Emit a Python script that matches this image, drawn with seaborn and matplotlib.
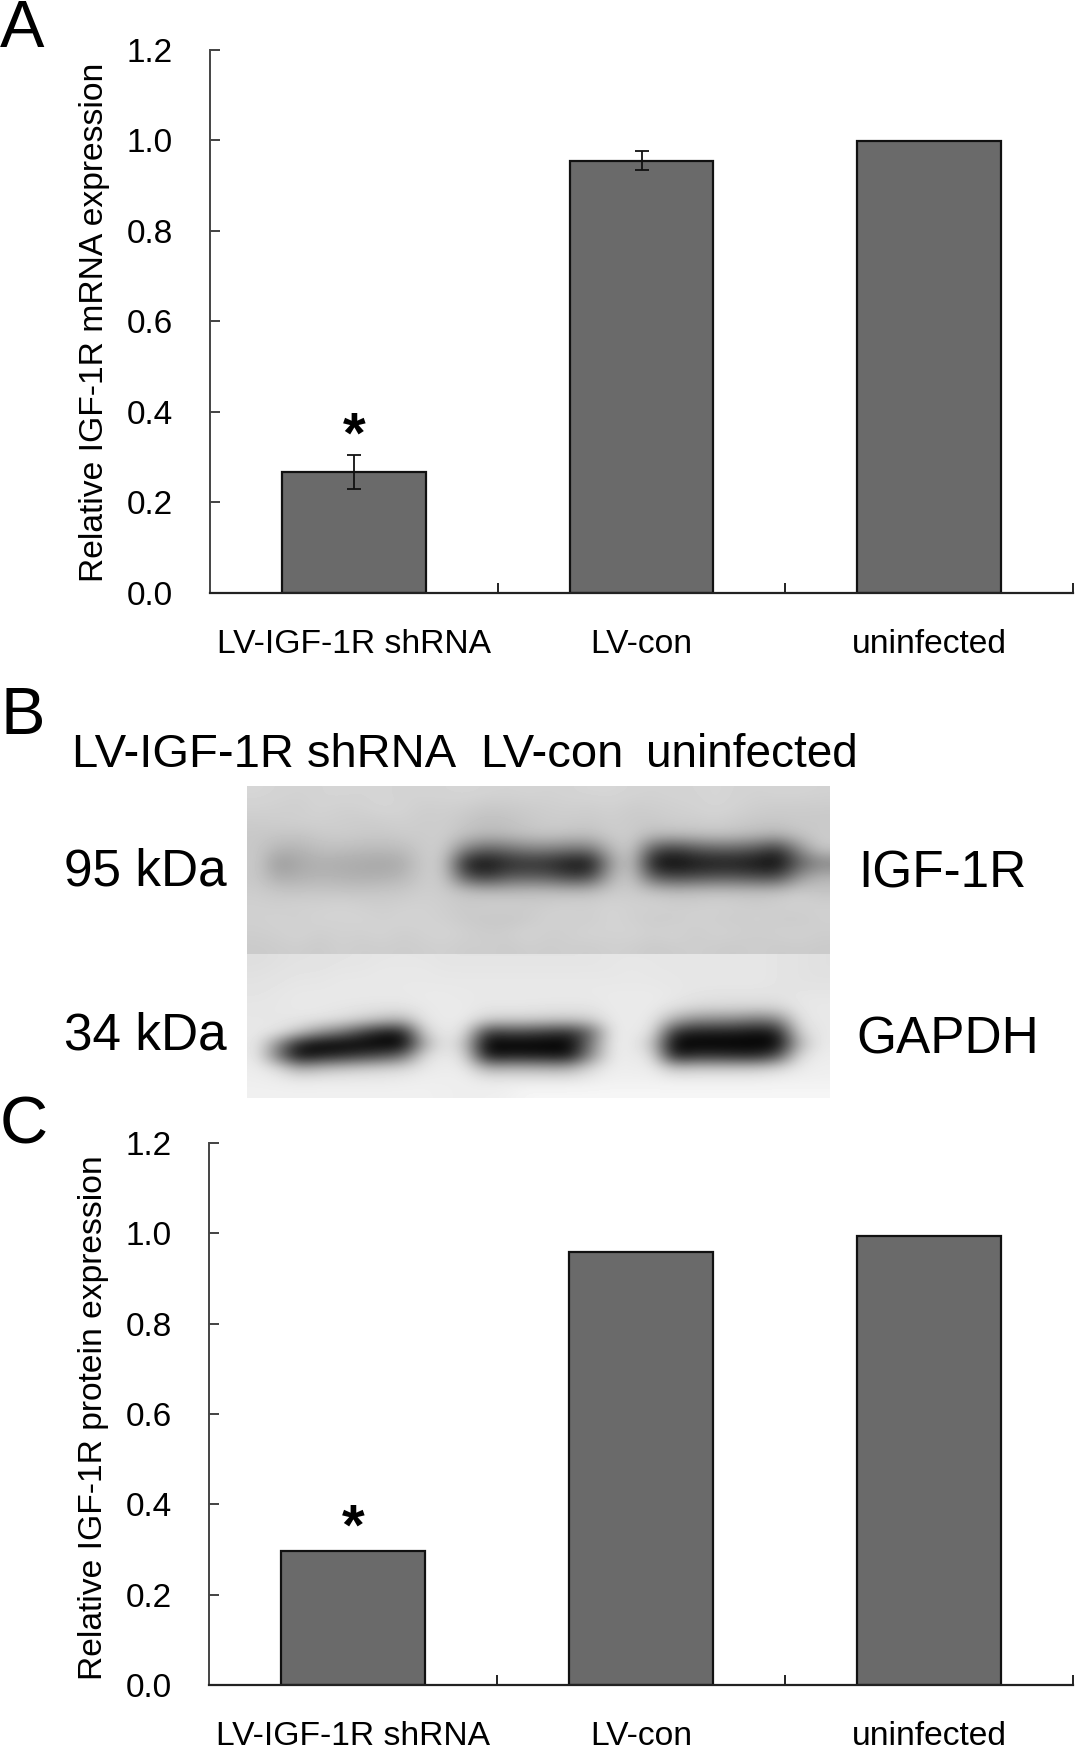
"""Fig: IGF-1R knockdown, qPCR bars (A), western blot (B), densitometry bars (C)."""
import matplotlib
matplotlib.use("Agg")
import matplotlib.pyplot as plt
import numpy as np
import pandas as pd
import seaborn as sns

W, H = 1087, 1759

groups = ["LV-IGF-1R shRNA", "LV-con", "uninfected"]
mrna_values = [0.267, 0.955, 0.998]
mrna_err_low = [0.038, 0.021, 0.0]
mrna_err_high = [0.037, 0.021, 0.0]
protein_values = [0.297, 0.958, 0.995]
star_levels = [0.356, 0.358]
y_ticks = [0.0, 0.2, 0.4, 0.6, 0.8, 1.0, 1.2]

# blot grey levels, 28 columns
blot_igf = [
    [214, 212, 210, 212, 214, 212, 214, 210, 212, 212, 214, 212, 210, 212, 210, 212, 214, 214, 212, 210, 212, 212, 214, 212, 210, 212, 212, 210],
    [210, 208, 206, 212, 208, 210, 214, 212, 206, 208, 206, 200, 202, 204, 206, 208, 206, 210, 204, 206, 208, 210, 214, 210, 206, 204, 204, 204],
    [204, 206, 208, 208, 206, 204, 206, 208, 204, 206, 198, 192, 194, 200, 204, 204, 202, 206, 202, 202, 206, 206, 208, 204, 200, 200, 202, 200],
    [200, 198, 196, 202, 204, 202, 200, 204, 204, 206, 192, 184, 188, 194, 198, 194, 192, 204, 204, 188, 190, 192, 196, 192, 186, 180, 196, 204],
    [200, 180, 180, 190, 190, 186, 186, 188, 204, 204, 130, 100, 112, 130, 130, 120, 120, 186, 204, 84, 60, 84, 96, 96, 82, 50, 140, 200],
    [202, 152, 168, 176, 172, 170, 166, 172, 204, 200, 30, 12, 40, 48, 42, 20, 16, 160, 200, 20, 5, 20, 26, 26, 16, 5, 90, 130],
    [200, 170, 176, 180, 178, 174, 176, 182, 204, 202, 84, 56, 88, 92, 88, 64, 70, 180, 202, 90, 70, 76, 84, 84, 74, 72, 150, 180],
    [204, 198, 196, 198, 196, 196, 198, 200, 206, 204, 194, 188, 186, 190, 190, 188, 190, 202, 204, 196, 188, 192, 194, 192, 192, 194, 204, 196],
    [208, 206, 210, 208, 212, 208, 206, 208, 210, 206, 202, 206, 208, 204, 206, 210, 208, 212, 208, 210, 208, 206, 210, 208, 204, 208, 210, 208],
    [208, 210, 206, 212, 210, 212, 208, 212, 210, 208, 202, 200, 198, 202, 210, 206, 206, 212, 208, 204, 204, 210, 206, 204, 208, 204, 202, 208],
    [206, 208, 212, 206, 210, 208, 212, 206, 210, 212, 208, 204, 206, 212, 206, 208, 212, 210, 212, 208, 212, 204, 210, 208, 204, 208, 210, 206],
    [202, 204, 206, 202, 208, 204, 206, 204, 206, 208, 204, 206, 202, 206, 204, 206, 204, 208, 206, 202, 204, 206, 204, 202, 206, 202, 204, 202],
]
blot_gapdh = [
    [222, 224, 226, 226, 228, 228, 230, 230, 230, 228, 228, 228, 228, 228, 228, 228, 228, 230, 230, 230, 230, 230, 230, 230, 230, 228, 226, 224],
    [224, 226, 228, 228, 230, 230, 232, 232, 232, 230, 230, 230, 230, 230, 230, 230, 230, 230, 232, 230, 230, 230, 230, 230, 230, 228, 226, 224],
    [226, 228, 230, 230, 232, 232, 232, 232, 232, 232, 232, 232, 232, 232, 232, 232, 232, 232, 232, 232, 230, 230, 230, 230, 230, 228, 226, 226],
    [228, 230, 232, 232, 232, 232, 232, 232, 234, 234, 232, 232, 232, 232, 232, 232, 232, 234, 234, 234, 232, 228, 226, 226, 226, 226, 230, 230],
    [230, 230, 232, 232, 230, 228, 226, 226, 232, 234, 234, 230, 230, 230, 228, 228, 228, 234, 234, 234, 224, 214, 212, 212, 210, 212, 230, 232],
    [230, 230, 230, 226, 220, 206, 190, 180, 230, 234, 234, 206, 204, 204, 200, 198, 204, 234, 234, 232, 170, 140, 136, 132, 118, 130, 226, 232],
    [232, 228, 196, 150, 120, 70, 28, 30, 210, 234, 222, 60, 70, 70, 56, 48, 100, 234, 234, 226, 50, 30, 30, 28, 18, 30, 210, 232],
    [232, 140, 30, 4, 2, 2, 0, 0, 170, 234, 196, 0, 0, 0, 0, 0, 120, 236, 234, 200, 0, 0, 0, 0, 0, 2, 180, 234],
    [234, 120, 10, 30, 46, 64, 80, 110, 220, 234, 220, 24, 30, 30, 24, 20, 140, 236, 234, 226, 30, 50, 50, 44, 40, 80, 220, 236],
    [236, 220, 170, 186, 196, 204, 210, 216, 232, 236, 234, 176, 180, 180, 176, 176, 216, 238, 236, 236, 196, 202, 202, 202, 204, 216, 234, 238],
    [238, 236, 232, 234, 234, 234, 234, 236, 238, 238, 238, 232, 232, 232, 232, 232, 236, 240, 240, 240, 238, 238, 238, 238, 238, 240, 240, 240],
    [240, 240, 240, 240, 240, 240, 240, 240, 240, 238, 238, 238, 240, 246, 246, 246, 246, 246, 246, 246, 246, 246, 246, 246, 246, 246, 246, 246],
]


def px_axes(fig, x0, y0, x1, y1):
    # pixel box (top-left origin) -> figure axes
    return fig.add_axes([x0 / W, 1 - y1 / H, (x1 - x0) / W, (y1 - y0) / H])


def px_text(fig, x, y, s, size, ha="left", va="center"):
    fig.text(x / W, 1 - y / H, s, fontsize=size, ha=ha, va=va, color="black")


def bar_panel(ax, values, ylabel, star, label_y, err=None):
    df = pd.DataFrame({"group": groups, "value": values})
    sns.barplot(data=df, x="group", y="value", color="#6a6a6a", saturation=1,
                width=0.5, edgecolor="#111111", linewidth=1.6, ax=ax)
    if err is not None:
        ax.errorbar(range(len(groups)), values, yerr=err, fmt="none", ecolor="#111111",
                    elinewidth=1.3, capsize=5, capthick=1.3)
    ax.set_xlim(-0.5, 2.5)
    ax.set_ylim(0, 1.2)
    ax.set_yticks(y_ticks)
    ax.set_yticklabels([f"{t:.1f}" for t in y_ticks])
    ax.set_xticks([0.5, 1.5, 2.5], minor=True)
    ax.tick_params(axis="x", which="major", length=0, pad=26, labelsize=24.2, labelcolor="black")
    ax.tick_params(axis="x", which="minor", direction="in", length=7, width=1.4, color="#222222",
                   bottom=True)
    ax.tick_params(axis="y", direction="in", length=7, width=1.2, pad=27, labelsize=24, left=True,
                   color="#222222", labelcolor="black")
    ax.set_xlabel("")
    ax.set_ylabel(ylabel, fontsize=24.2, va="center", color="black")
    ax.yaxis.set_label_coords((95 - 210) / 863, label_y)
    sns.despine(ax=ax)
    ax.spines["left"].set_color("#444444")
    ax.spines["bottom"].set_color("#222222")
    ax.spines["left"].set_linewidth(1.4)
    ax.spines["bottom"].set_linewidth(1.6)
    ax.patch.set_alpha(0)
    ax.text(0, star, "*", fontsize=42, fontweight="bold", ha="center", va="center_baseline",
            color="black")


def blot(ax, grid):
    ax.imshow(np.array(grid), cmap="gray", vmin=0, vmax=255, aspect="auto",
              interpolation="bicubic")
    ax.set_axis_off()


def main():
    sns.set_theme(style="white")
    plt.rcParams["font.family"] = ["Liberation Sans", "DejaVu Sans"]
    fig = plt.figure(figsize=(W / 100, H / 100), dpi=100, facecolor="white")

    ax_a = px_axes(fig, 210, 49.7, 1073, 592.7)
    bar_panel(ax_a, mrna_values, "Relative IGF-1R mRNA expression", star_levels[0], 0.497,
              err=[mrna_err_low, mrna_err_high])

    blot(px_axes(fig, 247, 786, 830, 954), blot_igf)
    blot(px_axes(fig, 247, 954, 830, 1098), blot_gapdh)

    ax_c = px_axes(fig, 209, 1143, 1073, 1685)
    bar_panel(ax_c, protein_values, "Relative IGF-1R protein expression", star_levels[1], 0.493)

    px_text(fig, 0, 30, "A", 48)
    px_text(fig, 0, 717, "B", 48)
    px_text(fig, 0, 1126, "C", 48)

    px_text(fig, 72, 754.5, groups[0], 33.9)
    px_text(fig, 480, 754.5, groups[1], 33.9)
    px_text(fig, 646, 754.5, groups[2], 33)
    px_text(fig, 64, 872, "95 kDa", 37)
    px_text(fig, 64, 1035.5, "34 kDa", 37)
    px_text(fig, 858, 873.5, "IGF-1R", 37)
    px_text(fig, 856, 1040.5, "GAPDH", 37)

    fig.savefig("out.png", dpi=100, facecolor="white")
    plt.close(fig)


if __name__ == "__main__":
    main()
